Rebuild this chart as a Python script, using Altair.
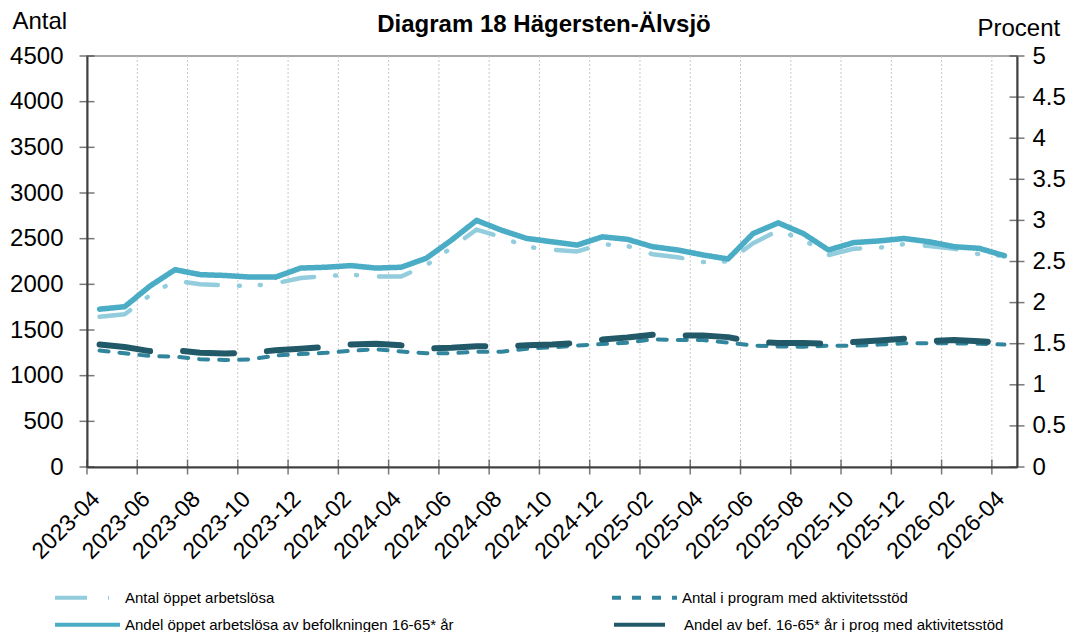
import altair as alt
import pandas as pd

months = ["2023-04", "2023-05", "2023-06", "2023-07", "2023-08", "2023-09", "2023-10", "2023-11",
          "2023-12", "2024-01", "2024-02", "2024-03", "2024-04", "2024-05", "2024-06", "2024-07",
          "2024-08", "2024-09", "2024-10", "2024-11", "2024-12", "2025-01", "2025-02", "2025-03",
          "2025-04", "2025-05", "2025-06", "2025-07", "2025-08", "2025-09", "2025-10", "2025-11",
          "2025-12", "2026-01", "2026-02", "2026-03", "2026-04"]

# Antal (left axis)
c_open = [1646, 1672, 1880, 2040, 2000, 1990, 1982, 2010, 2070, 2090, 2105, 2085, 2085, 2210,
          2400, 2600, 2515, 2410, 2380, 2360, 2440, 2420, 2330, 2296, 2245, 2250, 2450, 2590,
          2490, 2320, 2390, 2400, 2440, 2420, 2390, 2330, 2310]
c_prog = [1275, 1245, 1215, 1208, 1180, 1172, 1178, 1220, 1237, 1250, 1273, 1289, 1265, 1245,
          1245, 1262, 1262, 1295, 1310, 1330, 1347, 1361, 1398, 1390, 1390, 1361, 1330, 1320,
          1317, 1328, 1328, 1340, 1354, 1354, 1354, 1350, 1340]
# Procent (right axis)
p_open = [1.92, 1.95, 2.20, 2.40, 2.34, 2.33, 2.31, 2.31, 2.42, 2.43, 2.45, 2.42, 2.43, 2.54,
          2.76, 3.00, 2.88, 2.78, 2.74, 2.70, 2.80, 2.77, 2.68, 2.64, 2.58, 2.53, 2.84, 2.97,
          2.84, 2.64, 2.73, 2.75, 2.78, 2.74, 2.68, 2.66, 2.57]
p_prog = [1.49, 1.46, 1.41, 1.42, 1.39, 1.38, 1.39, 1.42, 1.44, 1.46, 1.49, 1.50, 1.48, 1.44,
          1.45, 1.47, 1.47, 1.48, 1.49, 1.51, 1.55, 1.575, 1.61, 1.60, 1.60, 1.58, 1.52, 1.51,
          1.51, 1.50, 1.52, 1.54, 1.56, 1.53, 1.545, 1.53, 1.51]

count_names = ["Antal öppet arbetslösa", "Antal i program med aktivitetsstöd"]
count_colors = ["#93CDDD", "#31859C"]
count_dashes = [[32, 21, 1, 20, 1, 22], [9, 11]]
count_widths = [4.5, 4]

pct_names = ["Andel öppet arbetslösa av befolkningen 16-65* år",
             "Andel av bef. 16-65* år i prog med aktivitetsstöd"]
pct_colors = ["#4BACC6", "#215968"]
pct_dashes = [[1, 0], [51, 33]]
pct_widths = [5.5, 6]

left_ticks = [0, 500, 1000, 1500, 2000, 2500, 3000, 3500, 4000, 4500]
right_ticks = [0, 0.5, 1, 1.5, 2, 2.5, 3, 3.5, 4, 4.5, 5]
label_pos = list(range(0, len(months), 2))
boundaries = [i - 0.5 for i in range(0, len(months), 2)]
grid_pos = boundaries[1:]

FONT = "Liberation Sans"
AX = "#404040"


def long_df(names, widths, series):
    rows = []
    for name, w, vals in zip(names, widths, series):
        for i, v in enumerate(vals):
            rows.append({"idx": i, "series": name, "value": v, "w": w})
    return pd.DataFrame(rows)


df_count = long_df(count_names, count_widths, [c_open, c_prog])
df_pct = long_df(pct_names, pct_widths, [p_open, p_prog])

label_arr = "[" + ",".join("'%s'" % m for m in months) + "]"

x_enc = alt.X("idx:Q",
              scale=alt.Scale(domain=[-0.5, len(months) - 0.5], nice=False, zero=False),
              axis=alt.Axis(values=label_pos, grid=False, ticks=False, domainColor=AX,
                            domainWidth=2, labelExpr=label_arr + "[round(datum.value)]",
                            labelAngle=315, labelAlign="right", labelBaseline="middle",
                            labelOffset=-4, labelPadding=28, labelFontSize=23, labelFont=FONT,
                            labelColor="black", labelOverlap=False, title=""))


def make_legend(ly, pad):
    return alt.Legend(title=None, orient="none", legendX=-34, legendY=ly, direction="horizontal",
                      columnPadding=pad, symbolType="stroke", symbolSize=4225,
                      symbolStrokeWidth=4, labelFontSize=15, labelFont=FONT,
                      labelColor="black", labelLimit=600, labelOffset=3)


leg_count = make_legend(507, 329)
leg_pct = make_legend(534, 152)

width_enc = alt.StrokeWidth("w:Q", scale=None, legend=None)

grid_rules = alt.Chart(pd.DataFrame({"idx": grid_pos})).mark_rule(
    color="#c8c8c8", strokeDash=[2, 2], strokeWidth=1).encode(x="idx:Q")

count_lines = alt.Chart(df_count).mark_line(strokeCap="round", strokeJoin="round").encode(
    x=x_enc,
    y=alt.Y("value:Q", scale=alt.Scale(domain=[0, 4500], nice=False),
            axis=alt.Axis(orient="left", values=left_ticks, format="d", grid=False, ticks=False,
                          domainColor=AX, domainWidth=2, labelFontSize=24, labelFont=FONT,
                          labelColor="black", labelPadding=24, title="Antal", titleAngle=0,
                          titleAlign="left", titleBaseline="alphabetic", titleX=-75, titleY=-28,
                          titleFontSize=24, titleFont=FONT, titleFontWeight="normal",
                          titleColor="black")),
    color=alt.Color("series:N", scale=alt.Scale(domain=count_names, range=count_colors),
                    legend=leg_count),
    strokeDash=alt.StrokeDash("series:N", scale=alt.Scale(domain=count_names, range=count_dashes),
                              legend=leg_count),
    strokeWidth=width_enc,
    order="idx:Q",
)

left_tick_marks = alt.Chart(pd.DataFrame({"value": left_ticks})).mark_tick(
    color=AX, thickness=1.5, size=15).encode(y="value:Q", x=alt.value(0))

x_tick_marks = alt.Chart(pd.DataFrame({"idx": boundaries})).mark_tick(
    color=AX, thickness=1.5, size=15).encode(x="idx:Q", y=alt.value(411))

pct_lines = alt.Chart(df_pct).mark_line(strokeCap="round", strokeJoin="round").encode(
    x=x_enc,
    y=alt.Y("value:Q", scale=alt.Scale(domain=[0, 5], nice=False),
            axis=alt.Axis(orient="right", values=right_ticks, format="~g", grid=False,
                          ticks=False, domainColor=AX, domainWidth=2, labelFontSize=24,
                          labelFont=FONT, labelColor="black", labelPadding=15, title="Procent",
                          titleAngle=0, titleAlign="left", titleBaseline="alphabetic",
                          titleX=-40, titleY=-21, titleFontSize=24, titleFont=FONT,
                          titleFontWeight="normal", titleColor="black")),
    color=alt.Color("series:N", scale=alt.Scale(domain=pct_names, range=pct_colors),
                    legend=leg_pct),
    strokeDash=alt.StrokeDash("series:N", scale=alt.Scale(domain=pct_names, range=pct_dashes),
                              legend=leg_pct),
    strokeWidth=width_enc,
    order="idx:Q",
)

right_tick_marks = alt.Chart(pd.DataFrame({"value": right_ticks})).mark_tick(
    color=AX, thickness=1.5, size=15).encode(y="value:Q", x=alt.value(930))

count_layer = alt.layer(grid_rules, count_lines, left_tick_marks, x_tick_marks)
pct_layer = alt.layer(pct_lines, right_tick_marks)

chart = alt.layer(count_layer, pct_layer).resolve_scale(
    y="independent", color="independent", strokeDash="independent"
).properties(
    width=930, height=411,
    padding={"left": 79, "top": 48, "right": 51, "bottom": 165},
    autosize=alt.AutoSizeParams(type="none"),
    title=alt.TitleParams("Diagram 18 Hägersten-Älvsjö", font=FONT, fontSize=24,
                          fontWeight="bold", color="black", anchor="middle", frame="group",
                          dx=-8, dy=47, offset=0, baseline="alphabetic"),
).configure_view(stroke="#8c8c8c", strokeWidth=1.5)

chart.save("out.html", embed_options={"renderer": "svg", "actions": False})
